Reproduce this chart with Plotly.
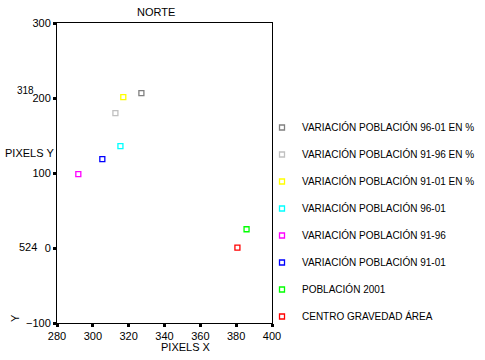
import plotly.graph_objects as go

series_names = [
    "VARIACIÓN POBLACIÓN 96-01 EN %",
    "VARIACIÓN POBLACIÓN 91-96 EN %",
    "VARIACIÓN POBLACIÓN 91-01 EN %",
    "VARIACIÓN POBLACIÓN 96-01",
    "VARIACIÓN POBLACIÓN 91-96",
    "VARIACIÓN POBLACIÓN 91-01",
    "POBLACIÓN 2001",
    "CENTRO GRAVEDAD ÁREA",
]
x_values = [327.1, 312.6, 317.0, 315.4, 291.9, 305.3, 385.8, 380.7]
y_values = [206.5, 179.8, 201.2, 135.8, 98.4, 118.4, 25.0, 0.5]
colors = ["#808080", "#c0c0c0", "#ffff00", "#00ffff", "#ff00ff", "#0000ff", "#00ff00", "#ff0000"]

x_ticks = [280, 300, 320, 340, 360, 380, 400]
y_ticks = [-100, 0, 100, 200, 300]

FONT = "Liberation Sans, Arial, sans-serif"

fig = go.Figure()
for i, (n, xv, yv, c) in enumerate(zip(series_names, x_values, y_values, colors)):
    fig.add_trace(go.Scatter(
        x=[xv], y=[yv], mode="markers", name=n, legendgroup=str(i),
        marker=dict(symbol="square-open", size=5, color=c, line=dict(width=1.3, color=c)),
    ))

fig.update_layout(
    width=485, height=360,
    margin=dict(l=57, r=213, t=23, b=37, autoexpand=False),
    plot_bgcolor="white", paper_bgcolor="white",
    font=dict(family=FONT, size=11, color="black"),
    showlegend=True,
    legend=dict(x=(262-57)/215, xanchor="left", y=(323-113)/300, yanchor="top",
                font=dict(size=10, family=FONT), tracegroupgap=8,
                itemwidth=30, bgcolor="rgba(0,0,0,0)"),
    xaxis=dict(range=[280, 400], tickvals=x_ticks, showgrid=False, zeroline=False,
               showline=True, linecolor="black", linewidth=1, mirror=True,
               ticks="outside", ticklen=3, tickwidth=3, tickcolor="black",
               tickfont=dict(size=11)),
    yaxis=dict(range=[-100, 300], tickvals=y_ticks, showgrid=False, zeroline=False,
               showline=True, linecolor="black", linewidth=1, mirror=True,
               ticks="outside", ticklen=3, tickwidth=3, tickcolor="black",
               tickfont=dict(size=11)),
    annotations=[
        dict(text="NORTE", xref="paper", yref="paper", x=(156-57)/215, y=1, yshift=11,
             showarrow=False, font=dict(size=11), yanchor="middle"),
        dict(text="PIXELS X", xref="paper", yref="paper", x=(186-57)/215, y=0, yshift=-24,
             showarrow=False, font=dict(size=11), yanchor="middle"),
        dict(text="PIXELS Y", xref="paper", yref="paper", x=-57/215 + 3/215, xanchor="left",
             y=(323-153)/300, showarrow=False, font=dict(size=11), yanchor="middle"),
        dict(text="318", xref="paper", yref="paper", x=(15-57)/215, xanchor="left",
             y=(323-90)/300, showarrow=False, font=dict(size=10), yanchor="middle"),
        dict(text="524", xref="paper", yref="paper", x=(17-57)/215, xanchor="left",
             y=(323-247)/300, showarrow=False, font=dict(size=11), yanchor="middle"),
        dict(text="Y", xref="paper", yref="paper", x=(7-57)/215,
             y=(323-318)/300, showarrow=False, font=dict(size=11), textangle=-90,
             yanchor="middle"),
    ],
)

fig.write_html("out.html", config={"displayModeBar": False},
               post_script="document.body.style.margin='0';")
